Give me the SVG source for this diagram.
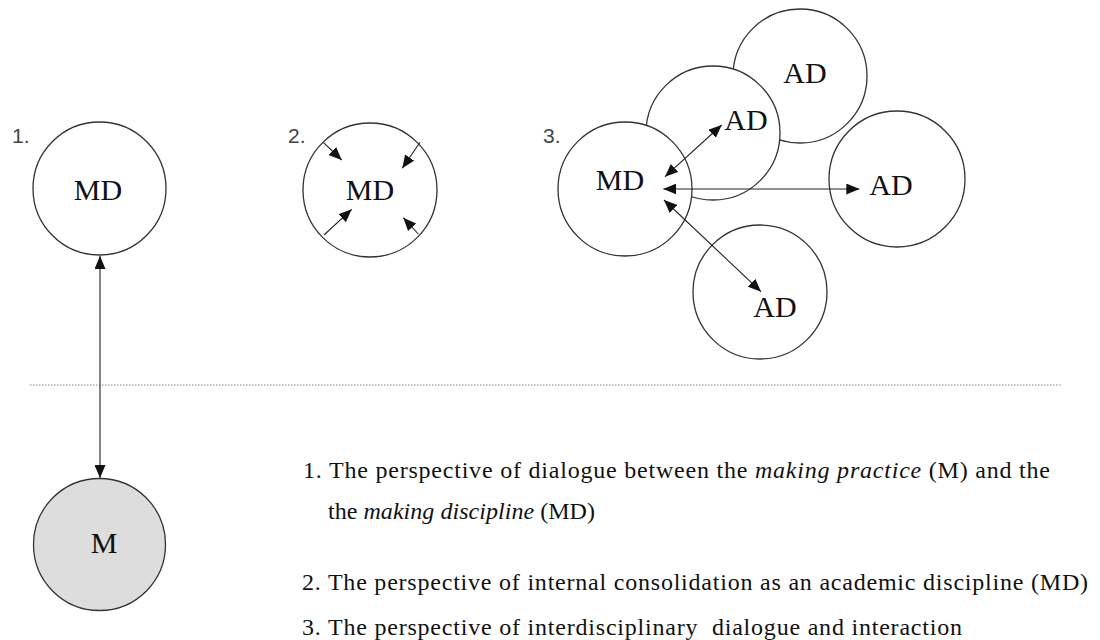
<svg xmlns="http://www.w3.org/2000/svg" width="1100" height="640" viewBox="0 0 1100 640">
<style>
.c{fill:#fff;stroke:#333;stroke-width:1.3}
.g{fill:#dddddd;stroke:#333;stroke-width:1.3}
.lb{font-family:"Liberation Serif",serif;font-size:30px;fill:#111;text-anchor:middle}
.num{font-family:"Liberation Sans",sans-serif;font-size:21px;fill:#444}
.t{font-family:"Liberation Serif",serif;font-size:24px;fill:#111}
.i{font-style:italic}
.a{stroke:#222;stroke-width:1.1;fill:none}
</style>
<defs>
<marker id="ah" markerUnits="userSpaceOnUse" markerWidth="13" markerHeight="11" refX="13" refY="5.5" orient="auto-start-reverse">
<path d="M0,0 L13,5.5 L0,11 z" fill="#111"/>
</marker>
</defs>
<rect width="1100" height="640" fill="#fff"/>
<line x1="30" y1="385" x2="1062" y2="385" stroke="#888" stroke-width="1.2" stroke-dasharray="1.5,1.5"/>
<g id="n1md"><circle class="c" cx="99.5" cy="188.5" r="66.5"/><text class="lb" x="98" y="200">MD</text></g>
<g id="n1m"><circle class="g" cx="99.5" cy="544.5" r="66"/><text class="lb" x="104" y="553">M</text></g>
<g id="n2md"><circle class="c" cx="370" cy="190" r="67"/><text class="lb" x="370" y="200">MD</text></g>
<g id="n3adtop"><circle class="c" cx="800" cy="76" r="67"/><text class="lb" x="805" y="83">AD</text></g>
<g id="n3admid"><circle class="c" cx="713" cy="133" r="67"/><text class="lb" x="746" y="130">AD</text></g>
<g id="n3md"><circle class="c" cx="625" cy="189" r="67"/><text class="lb" x="620" y="190">MD</text></g>
<g id="n3adright"><circle class="c" cx="897" cy="179" r="68"/><text class="lb" x="891" y="195">AD</text></g>
<g id="n3adbot"><circle class="c" cx="760" cy="292" r="67"/><text class="lb" x="775" y="317">AD</text></g>
<g id="connectors">
<line class="a" x1="100" y1="256" x2="100" y2="478" marker-start="url(#ah)" marker-end="url(#ah)"/>
<line class="a" x1="323.3" y1="142.3" x2="341.7" y2="160" marker-end="url(#ah)"/>
<line class="a" x1="420" y1="142.3" x2="402.3" y2="168.3" marker-end="url(#ah)"/>
<line class="a" x1="324" y1="235" x2="351.7" y2="209.3" marker-end="url(#ah)"/>
<line class="a" x1="418.3" y1="234" x2="403.3" y2="217.7" marker-end="url(#ah)"/>
<line class="a" x1="665" y1="176.7" x2="721.7" y2="125" marker-start="url(#ah)" marker-end="url(#ah)"/>
<line class="a" x1="663.3" y1="189" x2="859.3" y2="189" marker-start="url(#ah)" marker-end="url(#ah)"/>
<line class="a" x1="664" y1="200" x2="761" y2="291.7" marker-start="url(#ah)" marker-end="url(#ah)"/>
</g>
<text class="num" x="12" y="143">1.</text>
<text class="num" x="288" y="143">2.</text>
<text class="num" x="543" y="143">3.</text>
<text class="t" x="303" y="478" textLength="747" lengthAdjust="spacing">1. The perspective of dialogue between the <tspan class="i">making practice</tspan> (M) and the</text>
<text class="t" x="328" y="519" textLength="267" lengthAdjust="spacing">the <tspan class="i">making discipline</tspan> (MD)</text>
<text class="t" x="302" y="590" textLength="786" lengthAdjust="spacing">2. The perspective of internal consolidation as an academic discipline (MD)</text>
<text class="t" x="302" y="635" textLength="660" lengthAdjust="spacing" xml:space="preserve">3. The perspective of interdisciplinary  dialogue and interaction</text>
</svg>
